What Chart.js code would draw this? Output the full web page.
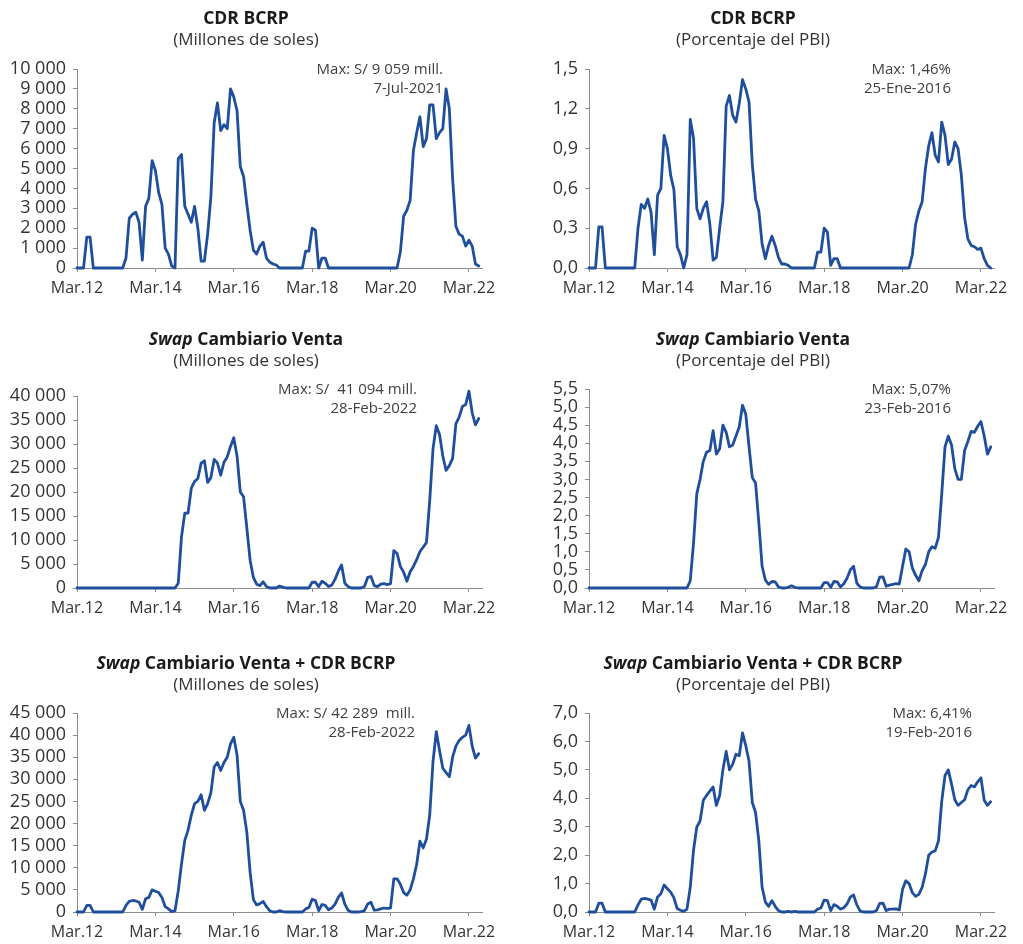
<!DOCTYPE html>
<html>
<head>
<meta charset="utf-8">
<script src="https://cdn.jsdelivr.net/npm/chart.js@4.4.1/dist/chart.umd.min.js"></script>
<style>
  body { margin: 0; background: #fff; font-family: 'Open Sans', sans-serif; }
  #page { position: relative; width: 1023px; height: 944px; overflow: hidden; }
  canvas { position: absolute; }
  .ttl { position: absolute; text-align: center; }
  .ttl b { display: block; font-size: 17.5px; line-height: 22px; font-weight: 700; color: #1a1a1a; }
  .ttl span { display: block; font-size: 17px; line-height: 22px; color: #333; }
  .note { position: absolute; width: 220px; text-align: right; font-size: 15px; line-height: 18.5px; color: #404040; white-space: pre; }
</style>
</head>
<body>
<div id="page">
  <canvas id="c1" width="505" height="320" style="left:0;top:0"></canvas>
  <canvas id="c2" width="513" height="320" style="left:510px;top:0"></canvas>
  <canvas id="c3" width="505" height="320" style="left:0;top:320px"></canvas>
  <canvas id="c4" width="513" height="320" style="left:510px;top:320px"></canvas>
  <canvas id="c5" width="505" height="304" style="left:0;top:640px"></canvas>
  <canvas id="c6" width="513" height="304" style="left:510px;top:640px"></canvas>

  <div class="ttl" style="left:0;top:5.5px;width:492px"><b>CDR BCRP</b><span>(Millones de soles)</span></div>
  <div class="ttl" style="left:510px;top:5.5px;width:486px"><b>CDR BCRP</b><span>(Porcentaje del PBI)</span></div>
  <div class="ttl" style="left:0;top:327px;width:492px"><b><i>Swap</i> Cambiario Venta</b><span>(Millones de soles)</span></div>
  <div class="ttl" style="left:510px;top:327px;width:486px"><b><i>Swap</i> Cambiario Venta</b><span>(Porcentaje del PBI)</span></div>
  <div class="ttl" style="left:0;top:650.5px;width:492px"><b><i>Swap</i> Cambiario Venta + CDR BCRP</b><span>(Millones de soles)</span></div>
  <div class="ttl" style="left:510px;top:650.5px;width:486px"><b><i>Swap</i> Cambiario Venta + CDR BCRP</b><span>(Porcentaje del PBI)</span></div>

  <div class="note" style="left:223px;top:59px">Max: S/ 9 059 mill.
7-Jul-2021</div>
  <div class="note" style="left:731px;top:59px">Max: 1,46%
25-Ene-2016</div>
  <div class="note" style="left:197px;top:379px">Max: S/  41 094 mill.
28-Feb-2022</div>
  <div class="note" style="left:731px;top:379px">Max: 5,07%
23-Feb-2016</div>
  <div class="note" style="left:195px;top:703px">Max: S/ 42 289  mill.
28-Feb-2022</div>
  <div class="note" style="left:752px;top:703px">Max: 6,41%
19-Feb-2016</div>
</div>
<script>
// monthly observations, first point = Mar.2012, last = Jun.2022
var tickLabels = ['Mar.12', 'Mar.14', 'Mar.16', 'Mar.18', 'Mar.20', 'Mar.22'];
var tickPos = [0, 24, 48, 72, 96, 120];

var yTicksCdrSoles = [0, 1000, 2000, 3000, 4000, 5000, 6000, 7000, 8000, 9000, 10000];
var yTicksCdrPbi = [0, 0.3, 0.6, 0.9, 1.2, 1.5];
var yTicksSwapSoles = [0, 5000, 10000, 15000, 20000, 25000, 30000, 35000, 40000];
var yTicksSwapPbi = [0, 0.5, 1, 1.5, 2, 2.5, 3, 3.5, 4, 4.5, 5, 5.5];
var yTicksTotalSoles = [0, 5000, 10000, 15000, 20000, 25000, 30000, 35000, 40000, 45000];
var yTicksTotalPbi = [0, 1, 2, 3, 4, 5, 6, 7];

var cdrSoles = [
  0, 0, 0, 1550, 1550, 0, 0, 0, 0, 0, 0, 0,
  0, 0, 0, 500, 2500, 2700, 2800, 2300, 400, 3100, 3500, 5400,
  4900, 3800, 3200, 1000, 700, 100, 0, 5500, 5700, 3100, 2700, 2300,
  3100, 2000, 350, 350, 1700, 3600, 7300, 8300, 6900, 7200, 7000, 9000,
  8600, 7900, 5100, 4600, 3200, 1900, 900, 700, 1100, 1300, 500, 300,
  200, 150, 0, 0, 0, 0, 0, 0, 0, 0, 850, 850,
  2000, 1900, 0, 500, 500, 0, 0, 0, 0, 0, 0, 0,
  0, 0, 0, 0, 0, 0, 0, 0, 0, 0, 0, 0,
  0, 0, 0, 800, 2600, 2900, 3400, 5900, 6800, 7600, 6100, 6500,
  8200, 8200, 6500, 6800, 7000, 9000, 8000, 4500, 2100, 1700, 1600, 1100,
  1400, 1100, 200, 100
];
var cdrPbi = [
  0, 0, 0, 0.31, 0.31, 0, 0, 0, 0, 0, 0, 0,
  0, 0, 0, 0.3, 0.48, 0.45, 0.52, 0.42, 0.1, 0.55, 0.6, 1.0,
  0.9, 0.7, 0.59, 0.16, 0.1, 0, 0.1, 1.12, 0.98, 0.45, 0.37, 0.45,
  0.5, 0.33, 0.06, 0.08, 0.3, 0.5, 1.22, 1.3, 1.15, 1.1, 1.24, 1.42,
  1.35, 1.25, 0.78, 0.52, 0.43, 0.18, 0.07, 0.17, 0.24, 0.17, 0.08, 0.03,
  0.03, 0.02, 0, 0, 0, 0, 0, 0, 0, 0, 0.12, 0.12,
  0.3, 0.27, 0.02, 0.07, 0.07, 0, 0, 0, 0, 0, 0, 0,
  0, 0, 0, 0, 0, 0, 0, 0, 0, 0, 0, 0,
  0, 0, 0, 0.1, 0.33, 0.43, 0.5, 0.75, 0.92, 1.02, 0.85, 0.8,
  1.1, 1.0, 0.78, 0.82, 0.95, 0.9, 0.7, 0.38, 0.22, 0.17, 0.16, 0.14,
  0.15, 0.07, 0.02, 0
];
var swapSoles = [
  0, 0, 0, 0, 0, 0, 0, 0, 0, 0, 0, 0,
  0, 0, 0, 0, 0, 0, 0, 0, 0, 0, 0, 0,
  0, 0, 0, 0, 0, 0, 0, 1000, 10700, 15600, 15600, 20800,
  22200, 22800, 26000, 26500, 22000, 23000, 26800, 26000, 23500, 26200, 27300, 29500,
  31300, 27500, 20000, 19000, 12500, 5800, 2200, 800, 500, 1300, 300, 0,
  0, 0, 400, 200, 0, 0, 0, 0, 0, 0, 0, 0,
  1200, 1200, 300, 1400, 1000, 300, 600, 1800, 3500, 4800, 1000, 300,
  0, 0, 0, 0, 300, 2200, 2400, 500, 300, 800, 900, 700,
  900, 7800, 7200, 4500, 3300, 1400, 3400, 4500, 5900, 7600, 8500, 9500,
  18300, 29000, 33800, 32000, 27500, 24500, 25500, 27000, 34200, 35600, 37800, 38200,
  41000, 36500, 34000, 35300
];
var swapPbi = [
  0, 0, 0, 0, 0, 0, 0, 0, 0, 0, 0, 0,
  0, 0, 0, 0, 0, 0, 0, 0, 0, 0, 0, 0,
  0, 0, 0, 0, 0, 0, 0, 0.2, 1.24, 2.6, 3.0, 3.5,
  3.75, 3.8, 4.35, 3.7, 3.85, 4.5, 4.3, 3.9, 3.95, 4.2, 4.45, 5.05,
  4.8, 3.9, 3.05, 2.9, 1.8, 0.6, 0.22, 0.1, 0.18, 0.17, 0.03, 0,
  0, 0.02, 0.06, 0.02, 0, 0, 0, 0, 0, 0, 0, 0,
  0.15, 0.15, 0.02, 0.18, 0.17, 0.03, 0.12, 0.27, 0.5, 0.6, 0.13, 0.03,
  0, 0, 0, 0, 0.03, 0.3, 0.31, 0.05, 0.08, 0.1, 0.12, 0.11,
  0.6, 1.08, 1.0, 0.55, 0.35, 0.2, 0.48, 0.65, 1.0, 1.14, 1.1, 1.4,
  2.6, 3.9, 4.2, 3.95, 3.3, 3.0, 3.0, 3.8, 4.05, 4.33, 4.3, 4.47,
  4.6, 4.2, 3.7, 3.9
];
var totalSoles = [
  0, 0, 0, 1500, 1500, 0, 0, 0, 0, 0, 0, 0,
  0, 0, 0, 1500, 2400, 2600, 2500, 2200, 600, 3000, 3300, 5000,
  4700, 4400, 3300, 1200, 700, 100, 300, 4800, 10900, 16200, 18500, 21900,
  24500, 25000, 26500, 23000, 24500, 27000, 32800, 33800, 32000, 33800, 35000, 38000,
  39500, 35500, 25000, 23000, 18000, 9000, 2800, 1600, 1900, 2400, 1200, 300,
  0, 0, 300, 100, 0, 0, 0, 0, 0, 0, 700, 1000,
  2900, 2600, 300, 1700, 1500, 500, 900, 1800, 3300, 4300, 1800, 400,
  0, 0, 0, 100, 300, 1800, 2200, 400, 500, 700, 900, 800,
  900, 7500, 7500, 6300, 4400, 3800, 5000, 7500, 10800, 16000, 14500, 16500,
  22000, 34000, 40800, 36500, 32500, 31500, 30600, 35000, 37500, 38800, 39500, 40000,
  42200, 37500, 34800, 35800
];
var totalPbi = [
  0, 0, 0, 0.31, 0.31, 0, 0, 0, 0, 0, 0, 0,
  0, 0, 0, 0.25, 0.45, 0.48, 0.45, 0.42, 0.1, 0.53, 0.64, 0.95,
  0.82, 0.7, 0.5, 0.12, 0.06, 0.02, 0.1, 0.87, 2.17, 2.99, 3.2, 3.93,
  4.1, 4.25, 4.4, 3.75, 4.1, 5.0, 5.65, 5.0, 5.2, 5.55, 5.5, 6.3,
  5.85, 5.3, 3.85, 3.5, 2.5, 0.87, 0.35, 0.2, 0.4, 0.2, 0.05, 0,
  0, 0.02, 0, 0.02, 0, 0, 0, 0, 0, 0, 0.1, 0.14,
  0.42, 0.4, 0.05, 0.26, 0.2, 0.1, 0.15, 0.28, 0.52, 0.6, 0.25, 0.04,
  0, 0, 0, 0, 0.05, 0.3, 0.31, 0.05, 0.1, 0.1, 0.11, 0.07,
  0.8, 1.1, 1.0, 0.68, 0.55, 0.62, 0.87, 1.34, 2.0, 2.11, 2.15, 2.5,
  3.9, 4.8, 5.0, 4.5, 3.95, 3.75, 3.85, 3.95, 4.3, 4.45, 4.4, 4.58,
  4.72, 3.93, 3.75, 3.88
];

var monthIdx = cdrSoles.map(function (v, i) { return i; });

var lineColor = '#1f4e9c';
var axisColor = '#8c8c8c';
var tickColor = '#333333';
var xFont = { family: "'Open Sans', sans-serif", size: 16 };
var yFont = { family: "'Open Sans', sans-serif", size: 18 };

function fmtMiles(v) {
  return String(Math.round(v)).replace(/\B(?=(\d{3})+(?!\d))/g, ' ');
}
function fmtDec(v) {
  return (Math.round(v * 10) / 10).toFixed(1).replace('.', ',');
}
function asTicks(list) {
  return list.map(function (v) { return { value: v }; });
}

function makeChart(id, values, c) {
  return new Chart(document.getElementById(id), {
    type: 'line',
    data: {
      labels: monthIdx,
      datasets: [{
        data: values,
        borderColor: lineColor,
        borderWidth: 2.8,
        borderJoinStyle: 'round',
        borderCapStyle: 'round',
        pointRadius: 0,
        tension: 0,
        fill: false,
        clip: false
      }]
    },
    options: {
      responsive: false,
      animation: false,
      events: [],
      layout: { padding: { top: c.top, right: c.padR, bottom: 0, left: 0 } },
      plugins: { legend: { display: false }, tooltip: { enabled: false } },
      scales: {
        x: {
          type: 'linear',
          min: 0,
          max: 124,
          afterBuildTicks: function (s) { s.ticks = asTicks(tickPos); },
          afterFit: function (s) { s.height = c.xH; },
          ticks: {
            autoSkip: false,
            maxRotation: 0,
            padding: 7,
            color: tickColor,
            font: xFont,
            callback: function (v) { return tickLabels[tickPos.indexOf(v)]; }
          },
          grid: { drawOnChartArea: false, tickLength: 4, color: axisColor },
          border: { color: axisColor }
        },
        y: {
          min: 0,
          max: c.yTicks[c.yTicks.length - 1],
          afterBuildTicks: function (s) { s.ticks = asTicks(c.yTicks); },
          afterFit: function (s) { s.width = c.yW; },
          ticks: { autoSkip: false, padding: 7, color: tickColor, font: yFont, callback: c.fmt },
          grid: { drawOnChartArea: false, tickLength: 4, color: axisColor },
          border: { color: axisColor }
        }
      }
    }
  });
}

makeChart('c1', cdrSoles,   { yTicks: yTicksCdrSoles,   fmt: fmtMiles, yW: 77, top: 69, xH: 52, padR: 23 });
makeChart('c2', cdrPbi,     { yTicks: yTicksCdrPbi,     fmt: fmtDec,   yW: 79, top: 69, xH: 52, padR: 29 });
makeChart('c3', swapSoles,  { yTicks: yTicksSwapSoles,  fmt: fmtMiles, yW: 77, top: 76, xH: 52, padR: 23 });
makeChart('c4', swapPbi,    { yTicks: yTicksSwapPbi,    fmt: fmtDec,   yW: 79, top: 69, xH: 52, padR: 29 });
makeChart('c5', totalSoles, { yTicks: yTicksTotalSoles, fmt: fmtMiles, yW: 77, top: 73, xH: 32, padR: 23 });
makeChart('c6', totalPbi,   { yTicks: yTicksTotalPbi,   fmt: fmtDec,   yW: 79, top: 73, xH: 32, padR: 29 });
</script>
</body>
</html>
